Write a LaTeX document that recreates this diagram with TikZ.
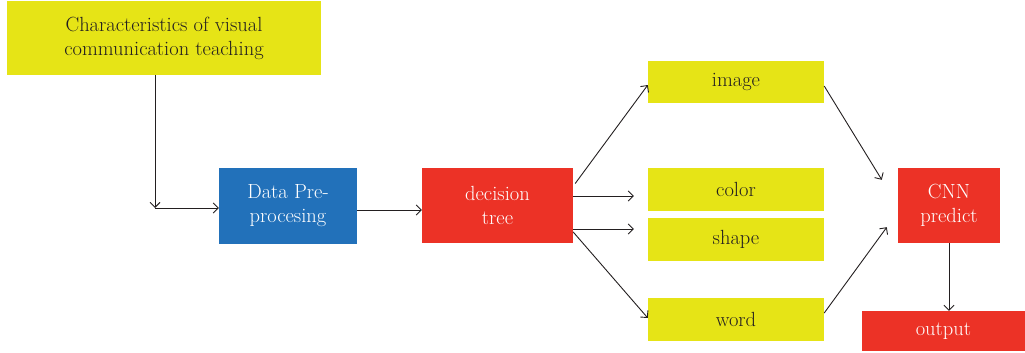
\documentclass[tikz,border=0pt]{standalone}
\usetikzlibrary{arrows.meta,calc}
\definecolor{ylw}{RGB}{230,228,22}
\definecolor{blu}{RGB}{34,113,186}
\definecolor{rd}{RGB}{236,50,38}
\definecolor{txt}{RGB}{35,31,32}
\begin{document}
\begin{tikzpicture}[x=1pt,y=-1pt,
  box/.style={rectangle,inner sep=0pt,align=center,font=\fontsize{20.5}{24}\selectfont},
  ybox/.style={box,fill=ylw,text=txt},
  bbox/.style={box,fill=blu,text=white},
  rbox/.style={box,fill=rd,text=white},
  conn/.style={draw=txt,line width=0.9pt,-{Straight Barb[length=5pt,width=10pt]}}]
\useasboundingbox (0,0) rectangle (1025,353);
\node[ybox,minimum width=314pt,minimum height=74pt] (top) at (164,38) {Characteristics of visual\\communication teaching};
\node[bbox,minimum width=138pt,minimum height=76pt] (dp) at (288,206) {Data Pre-\\procesing};
\node[rbox,minimum width=151pt,minimum height=75pt] (dt) at (497.5,205.5) {decision\\tree};
\node[ybox,minimum width=176pt,minimum height=42pt] (img) at (736,82) {image};
\node[ybox,minimum width=176pt,minimum height=43pt] (col) at (736,189.5) {color};
\node[ybox,minimum width=176pt,minimum height=43pt] (shp) at (736,239.5) {shape};
\node[ybox,minimum width=176pt,minimum height=43pt] (wrd) at (736,319.5) {word};
\node[rbox,minimum width=102pt,minimum height=75pt] (cnn) at (949,205.5) {CNN\\predict};
\node[rbox,minimum width=163pt,minimum height=40pt] (out) at (943.5,331) {output};
\coordinate (c) at (155,208);
\draw[conn] (top.south -| c) -- (c);
\draw[conn] (c) -- (c -| dp.west);
\draw[conn] ([yshift=-4pt]dp.east) -- ([yshift=-4pt]dp.east -| dt.west);
\draw[conn] ([xshift=2pt,yshift=22pt]dt.east) -- ([yshift=-3pt]img.west);
\draw[conn] ([yshift=9.5pt]dt.east) -- ([xshift=-14pt,yshift=9.5pt]dt.east -| col.west);
\draw[conn] ([yshift=-23.5pt]dt.east) -- ([xshift=-14pt,yshift=-23.5pt]dt.east -| shp.west);
\draw[conn] ([yshift=-26.5pt]dt.east) -- ([yshift=1.5pt]wrd.west);
\draw[conn] ([yshift=-4pt]img.east) -- ([xshift=-16pt,yshift=-12pt]cnn.north west);
\draw[conn] ([yshift=6.5pt]wrd.east) -- ([xshift=-11pt,yshift=16pt]cnn.south west);
\draw[conn] (cnn.south) -- (cnn.south |- out.north);
\end{tikzpicture}
\end{document}
